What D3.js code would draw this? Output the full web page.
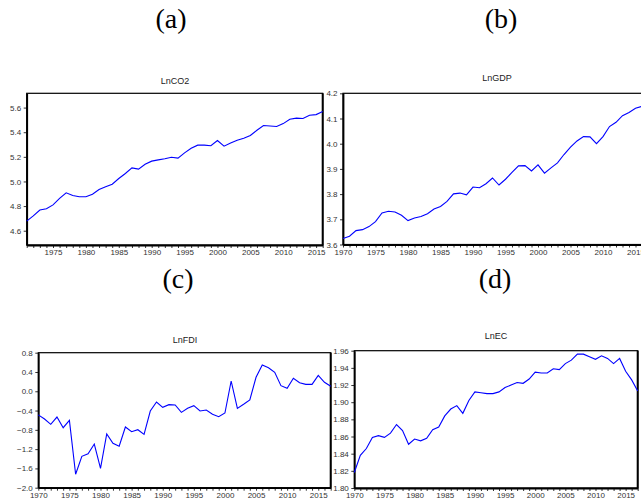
<!DOCTYPE html>
<html lang="en">
<head>
    <meta charset="UTF-8">
    <title>LnCO2, LnGDP, LnFDI, LnEC</title>
    <script src="https://d3js.org/d3.v7.min.js"></script>
    <style>
        body { margin: 0; background: #fff; }
        svg { display: block; }
        .tick text { font-family: "Liberation Sans", Arial, sans-serif; font-size: 8px; fill: #333; }
        .title { font-family: "Liberation Sans", Arial, sans-serif; font-size: 9px; fill: #222; }
        .panel-label { font-family: "Liberation Serif", "Times New Roman", serif; font-size: 28px; fill: #000; }
    </style>
</head>
<body>
    <svg id="chart" width="641" height="502"></svg>

    <script>
        // Series
        const co2Start = 1971;
        const lnCO2 = [
            4.678, 4.720, 4.768, 4.778, 4.810, 4.862, 4.908, 4.886, 4.876, 4.876,
            4.897, 4.935, 4.957, 4.978, 5.024, 5.065, 5.110, 5.100, 5.140, 5.165,
            5.175, 5.184, 5.197, 5.190, 5.232, 5.270, 5.295, 5.295, 5.290, 5.332,
            5.287, 5.313, 5.335, 5.351, 5.373, 5.416, 5.454, 5.451, 5.446, 5.470,
            5.505, 5.514, 5.511, 5.538, 5.543, 5.568
        ];

        const gdpStart = 1970;
        const lnGDP = [
            3.624, 3.633, 3.655, 3.659, 3.671, 3.691, 3.725, 3.732, 3.729, 3.716,
            3.695, 3.705, 3.711, 3.722, 3.741, 3.751, 3.771, 3.801, 3.804, 3.797,
            3.828, 3.825, 3.841, 3.864, 3.836, 3.859, 3.886, 3.912, 3.913, 3.892,
            3.916, 3.883, 3.904, 3.924, 3.957, 3.986, 4.011, 4.028, 4.027, 4.000,
            4.028, 4.068, 4.085, 4.111, 4.124, 4.141, 4.148
        ];

        const fdiStart = 1970;
        const lnFDI = [
            -0.490, -0.575, -0.685, -0.534, -0.756, -0.603, -1.720, -1.350, -1.295, -1.094,
            -1.598, -0.886, -1.080, -1.140, -0.741, -0.838, -0.797, -0.893, -0.409, -0.223,
            -0.333, -0.278, -0.285, -0.437, -0.354, -0.299, -0.409, -0.389, -0.478, -0.527,
            -0.451, 0.213, -0.354, -0.270, -0.181, 0.290, 0.545, 0.489, 0.393, 0.116,
            0.061, 0.269, 0.178, 0.144, 0.144, 0.331, 0.186, 0.103
        ];

        const ecStart = 1970;
        const lnEC = [
            1.818, 1.838, 1.846, 1.859, 1.861, 1.859, 1.864, 1.874, 1.867, 1.851,
            1.857, 1.855, 1.858, 1.868, 1.871, 1.884, 1.892, 1.896, 1.887, 1.902,
            1.912, 1.911, 1.910, 1.910, 1.912, 1.917, 1.920, 1.923, 1.922, 1.927,
            1.935, 1.934, 1.934, 1.939, 1.938, 1.945, 1.949, 1.956, 1.956, 1.953,
            1.950, 1.954, 1.951, 1.945, 1.951, 1.936, 1.926, 1.913
        ];

        // y tick labels
        const co2Ticks = [4.6, 4.8, 5.0, 5.2, 5.4, 5.6];
        const gdpTicks = [3.6, 3.7, 3.8, 3.9, 4.0, 4.1, 4.2];
        const fdiTicks = [-2.0, -1.6, -1.2, -0.8, -0.4, 0.0, 0.4, 0.8];
        const ecTicks = [1.80, 1.82, 1.84, 1.86, 1.88, 1.90, 1.92, 1.94, 1.96];

        const svg = d3.select("#chart");

        svg.append("rect")
            .attr("width", 641)
            .attr("height", 502)
            .attr("fill", "#fff");

        const panels = [
            { title: "LnCO2", values: lnCO2, start: co2Start, xDomain: [1971, 2016],
              yDomain: [4.484, 5.716], yTicks: co2Ticks, fmt: ".1f",
              left: 26.7, right: 322.7, top: 93.3, bottom: 245, titleX: 175, titleY: 84 },
            { title: "LnGDP", values: lnGDP, start: gdpStart, xDomain: [1970, 2017],
              yDomain: [3.6, 4.2], yTicks: gdpTicks, fmt: ".1f",
              left: 343, right: 648.5, top: 93.3, bottom: 244.5, titleX: 497, titleY: 80.7 },
            { title: "LnFDI", values: lnFDI, start: fdiStart, xDomain: [1970, 2017],
              yDomain: [-2.0, 0.8], yTicks: fdiTicks, fmt: ".1f",
              left: 38.3, right: 330.7, top: 352.7, bottom: 487.7, titleX: 185, titleY: 342.7 },
            { title: "LnEC", values: lnEC, start: ecStart, xDomain: [1970, 2017],
              yDomain: [1.80, 1.96], yTicks: ecTicks, fmt: ".2f",
              left: 354.3, right: 637.7, top: 350.7, bottom: 488, titleX: 496, titleY: 339.3 }
        ];

        panels.forEach(drawPanel);

        function drawPanel(p) {
            const data = p.values.map((v, i) => ({ year: p.start + i, value: v }));

            const x = d3.scaleLinear().domain(p.xDomain).range([p.left, p.right]);
            const y = d3.scaleLinear().domain(p.yDomain).range([p.bottom, p.top]);

            const g = svg.append("g");

            // frame
            g.append("rect")
                .attr("x", p.left)
                .attr("y", p.top)
                .attr("width", p.right - p.left)
                .attr("height", p.bottom - p.top)
                .attr("fill", "none")
                .attr("stroke", "#000")
                .attr("stroke-width", 1.2);

            g.append("line")
                .attr("x1", p.right).attr("x2", p.right)
                .attr("y1", p.top).attr("y2", p.bottom)
                .attr("stroke", "#000")
                .attr("stroke-width", 2);

            const years = d3.range(p.xDomain[0], p.xDomain[1] + 1);

            const xAxis = g.append("g")
                .attr("transform", `translate(0,${p.bottom})`)
                .call(d3.axisBottom(x)
                    .tickValues(years)
                    .tickSize(3)
                    .tickSizeOuter(0)
                    .tickPadding(1.5)
                    .tickFormat(d => d % 5 === 0 ? d : ""));

            const yAxis = g.append("g")
                .attr("transform", `translate(${p.left},0)`)
                .call(d3.axisLeft(y)
                    .tickValues(p.yTicks)
                    .tickSize(3)
                    .tickSizeOuter(0)
                    .tickPadding(2.5)
                    .tickFormat(d3.format(p.fmt)));

            [xAxis, yAxis].forEach(a => {
                a.select(".domain").attr("stroke", "#000").attr("stroke-width", 1.8);
                a.selectAll(".tick line").attr("stroke", "#000").attr("stroke-width", 0.8);
            });

            g.append("path")
                .datum(data)
                .attr("fill", "none")
                .attr("stroke", "#0000ff")
                .attr("stroke-width", 1.1)
                .attr("d", d3.line().x(d => x(d.year)).y(d => y(d.value)));

            g.append("text")
                .attr("class", "title")
                .attr("x", p.titleX)
                .attr("y", p.titleY)
                .attr("text-anchor", "middle")
                .text(p.title);
        }

        // (a)-(d) captions
        const captions = [
            { text: "(a)", x: 171, y: 28 },
            { text: "(b)", x: 501, y: 28 },
            { text: "(c)", x: 178, y: 288 },
            { text: "(d)", x: 495, y: 288 }
        ];

        svg.selectAll("text.panel-label")
            .data(captions)
            .enter().append("text")
            .attr("class", "panel-label")
            .attr("x", d => d.x)
            .attr("y", d => d.y)
            .attr("text-anchor", "middle")
            .text(d => d.text);
    </script>
</body>
</html>
